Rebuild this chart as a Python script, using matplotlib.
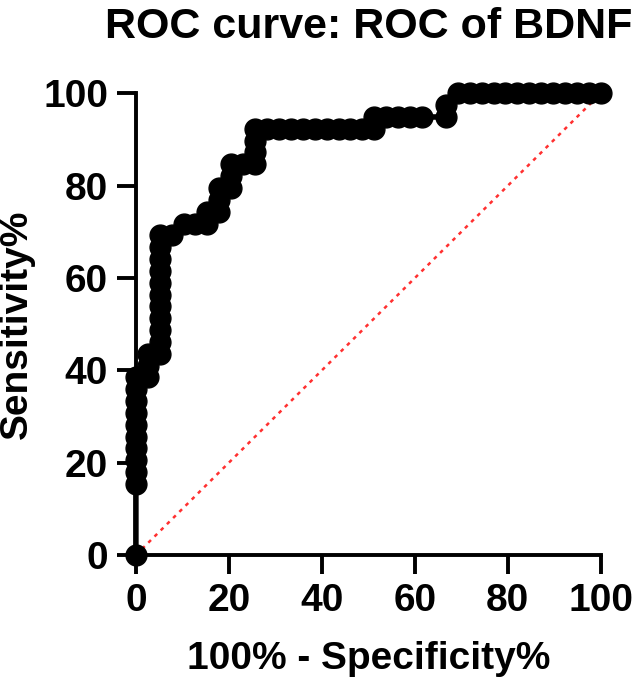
import matplotlib
matplotlib.use("Agg")
import matplotlib.pyplot as plt

# ROC points (100% - Specificity%, Sensitivity%)
fpr = [0, 0, 0, 0, 0, 0, 0, 0, 0, 0, 0,
       2.56, 2.56, 2.56, 5.13,
       5.13, 5.13, 5.13, 5.13, 5.13, 5.13, 5.13, 5.13, 5.13, 5.13,
       7.69, 10.26, 12.82, 15.38, 15.38, 17.95, 17.95, 17.95,
       20.51, 20.51, 20.51, 23.08, 25.64, 25.64, 25.64, 25.64,
       28.21, 30.77, 33.33, 35.90, 38.46, 41.03, 43.59, 46.15, 48.72, 51.28,
       51.28, 53.85, 56.41, 58.97, 61.54, 66.67, 66.67, 69.23,
       71.79, 74.36, 76.92, 79.49, 82.05, 84.62, 87.18, 89.74, 92.31, 94.87,
       97.44, 100]
tpr = [0, 15.38, 17.95, 20.51, 23.08, 25.64, 28.21, 30.77, 33.33, 35.90, 38.46,
       38.46, 41.03, 43.59, 43.59,
       46.15, 48.72, 51.28, 53.85, 56.41, 58.97, 61.54, 64.10, 66.67, 69.23,
       69.23, 71.79, 71.79, 71.79, 74.36, 74.36, 76.92, 79.49,
       79.49, 82.05, 84.62, 84.62, 84.62, 87.18, 89.74, 92.31,
       92.31, 92.31, 92.31, 92.31, 92.31, 92.31, 92.31, 92.31, 92.31, 92.31,
       94.87, 94.87, 94.87, 94.87, 94.87, 94.87, 97.44, 100,
       100, 100, 100, 100, 100, 100, 100, 100, 100, 100,
       100, 100]
ticks = [0, 20, 40, 60, 80, 100]

plt.rcParams['font.family'] = ['Liberation Sans', 'DejaVu Sans']
plt.rcParams['font.weight'] = 'bold'

fig = plt.figure(figsize=(6.44, 6.81), dpi=100)
ax = fig.add_axes([0.211, 0.185, 0.722, 0.678])

ax.plot([0, 100], [0, 100], color='#ff3030', linestyle=(0, (1.5, 2)),
        linewidth=1.8, zorder=2, clip_on=False)
ax.plot(fpr, tpr, color='black', linewidth=4, marker='o', markersize=15,
        zorder=3, clip_on=False)

ax.set_xlim(0, 100)
ax.set_ylim(0, 100)
ax.set_xticks(ticks)
ax.set_yticks(ticks)
ax.tick_params(direction='out', length=14, width=2.8, labelsize=28, pad=6)
for lab in ax.get_xticklabels() + ax.get_yticklabels():
    lab.set_fontweight('bold')
for s in ['top', 'right']:
    ax.spines[s].set_visible(False)
for s in ['left', 'bottom']:
    ax.spines[s].set_linewidth(2.8)

ax.set_title("ROC curve: ROC of BDNF", fontsize=31, fontweight='bold', pad=40)
ax.set_xlabel("100% - Specificity%", fontsize=28, fontweight='bold', labelpad=16)
ax.set_ylabel("Sensitivity%", fontsize=28, fontweight='bold', labelpad=6)

fig.savefig("out.png", dpi=100)
